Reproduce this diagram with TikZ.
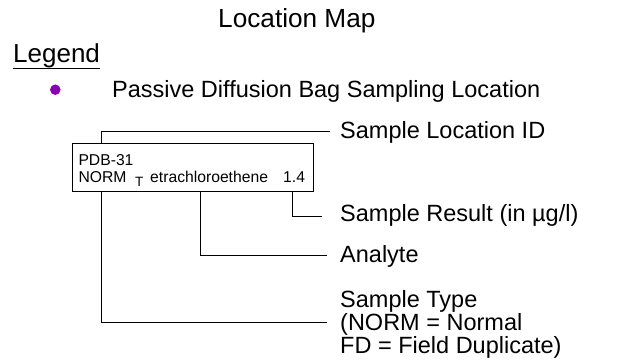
\documentclass[tikz,border=0pt]{standalone}
\usepackage{fontspec}
\setmainfont{Liberation Sans}
\begin{document}
\begin{tikzpicture}[x=1pt,y=-1pt,
  lbl/.style={anchor=base west,inner sep=0pt,font=\fontsize{23.5}{23.3}\selectfont},
  boxtxt/.style={anchor=base west,inner sep=0pt,font=\fontsize{15.7}{16}\selectfont},
  conn/.style={draw=black,line width=0.9pt}]
\useasboundingbox (0,0) rectangle (621,359);
\node[anchor=base west,inner sep=0pt,font=\fontsize{26.2}{29}\selectfont] (title) at (218,27.3) {Location Map};
\node[anchor=base west,inner sep=0pt,font=\fontsize{26}{28}\selectfont] (legend) at (13,62.5) {Legend};
\draw[line width=1.3pt] (legend.base west) ++(0,6) coordinate (ul1) -- (legend.base east |- ul1) coordinate (ul2);
\node[circle,fill={rgb,255:red,140;green,0;blue,180},inner sep=0pt,minimum size=10.5pt] (dot) at (55.3,89.7) {};
\node[lbl] (pdb) at (112,97.3) {Passive Diffusion Bag Sampling Location};
\node[draw=black,line width=0.9pt,anchor=north west,minimum width=241.6pt,minimum height=48pt,inner sep=0pt] (box) at (71.7,142.7) {};
\node[boxtxt] (id) at (78.3,165) {PDB-31};
\node[boxtxt] (norm) at (78.3,182.7) {NORM};
\node[anchor=base west,inner sep=0pt,font=\fontsize{13.5}{14}\selectfont] (tt) at (135,186) {T};
\node[boxtxt] (analyte) at (150,182.7) {etrachloroethene};
\node[boxtxt] (res) at (283,182.7) {1.4};
\node[lbl] (lid) at (340,138.3) {Sample Location ID};
\node[lbl] (lres) at (340,221.7) {Sample Result (in µg/l)};
\node[lbl] (lan) at (340,262) {Analyte};
\node[lbl] (lt1) at (340,307) {Sample Type};
\node[lbl] (lt2) at (340,330) {(NORM = Normal};
\node[lbl] (lt3) at (340,353.3) {FD = Field Duplicate)};
\coordinate (cidA) at (101.7,131);
\coordinate (cidB) at (330,131);
\coordinate (cresA) at (292,216);
\coordinate (cresB) at (322,216);
\coordinate (canA) at (200,255);
\coordinate (canB) at (327,255);
\coordinate (ctyA) at (101.7,322);
\coordinate (ctyB) at (327,322);
\draw[conn] (box.north west -| cidA) -- (cidA) -- (cidB);
\draw[conn] (box.south west -| cresA) -- (cresA) -- (cresB);
\draw[conn] (box.south west -| canA) -- (canA) -- (canB);
\draw[conn] (box.south west -| ctyA) -- (ctyA) -- (ctyB);
\end{tikzpicture}
\end{document}
